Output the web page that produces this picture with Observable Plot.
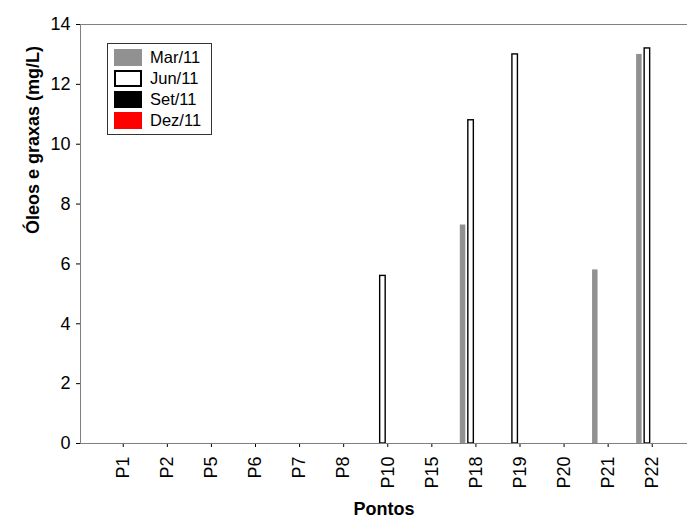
<!DOCTYPE html>
<html>
<head>
<meta charset="utf-8">
<script src="https://cdn.jsdelivr.net/npm/d3@7"></script>
<script src="https://cdn.jsdelivr.net/npm/@observablehq/plot@0.6"></script>
<style>
  body { margin: 0; background: #fff; }
  #wrap { position: relative; width: 687px; height: 521px; font-family: "Liberation Sans", Arial, sans-serif; }
  .legend { position: absolute; left: 107px; top: 43px; width: 105px; height: 92px; border: 1px solid #333; box-sizing: border-box; background: #fff; }
  .legend .row { position: absolute; left: 6px; height: 17px; display: flex; align-items: center; }
  .legend .sw { width: 28px; height: 17px; box-sizing: border-box; margin-right: 8px; }
  .legend .lab { font-size: 16.5px; line-height: 17px; color: #000; }
</style>
</head>
<body>
<div id="wrap"></div>
<script>
const pontos = ["P1","P2","P5","P6","P7","P8","P10","P15","P18","P19","P20","P21","P22"];
const series = ["Mar/11","Jun/11","Set/11","Dez/11"];
const mar = [0,0,0,0,0,0,0,0,7.3,0,0,5.8,13.0];
const jun = [0,0,0,0,0,0,5.6,0,10.8,13.0,0,0,13.2];
const set = [0,0,0,0,0,0,0,0,0,0,0,0,0];
const dez = [0,0,0,0,0,0,0,0,0,0,0,0,0];
const yTicks = [0,2,4,6,8,10,12,14];
const xTitle = "Pontos";
const yTitle = "Óleos e graxas (mg/L)";
const fills = ["#919191","#ffffff","#000000","#ff0000"];
const strokes = ["none","#000000","none","none"];

const allSeries = [mar, jun, set, dez];
const slot = 0.182, barW = 0.125;
const rows = [];
allSeries.forEach((vals, s) => {
  vals.forEach((v, i) => {
    if (v > 0) {
      const x1 = i + (s - 2) * slot + 0.01;
      rows.push({serie: series[s], s, i, value: v, x1, x2: x1 + barW});
    }
  });
});

const chart = Plot.plot({
  width: 687,
  height: 521,
  marginLeft: 80,
  marginRight: 0,
  marginTop: 24,
  marginBottom: 78,
  style: {fontFamily: "'Liberation Sans', Arial, sans-serif", fontSize: "18px", color: "#000", background: "#fff"},
  x: {type: "linear", domain: [-0.97, 12.8], ticks: d3.range(pontos.length), tickFormat: i => pontos[i],
      tickRotate: -90, tickSize: 4, tickPadding: 9, label: null},
  y: {domain: [0, 14], ticks: yTicks, tickSize: 4, tickPadding: 6, label: null},
  marks: [
    Plot.rectY(rows.filter(d => d.s !== 1), {x1: "x1", x2: "x2", y: "value", fill: d => fills[d.s]}),
    Plot.rectY(rows.filter(d => d.s === 1), {x1: "x1", x2: "x2", y: "value", fill: "#fff", stroke: "#000", strokeWidth: 1.4}),
    Plot.ruleY([0], {stroke: "#808080", strokeWidth: 1.2}),
    Plot.ruleY([14], {stroke: "#808080", strokeWidth: 1}),
    Plot.ruleX([-0.97], {stroke: "#808080", strokeWidth: 1}),
    Plot.text([xTitle], {frameAnchor: "bottom", dy: 71, fontWeight: "bold", fontSize: 18, fill: "#000"}),
    Plot.text([yTitle], {frameAnchor: "left", rotate: -90, dx: -47, fontWeight: "bold", fontSize: 18, fill: "#000"})
  ]
});
const wrap = document.getElementById("wrap");
wrap.appendChild(chart);

const leg = document.createElement("div");
leg.className = "legend";
series.forEach((s, k) => {
  const row = document.createElement("div");
  row.className = "row";
  row.style.top = (5 + k * 21) + "px";
  const sw = document.createElement("div");
  sw.className = "sw";
  sw.style.background = fills[k];
  if (strokes[k] !== "none") sw.style.border = "2px solid " + strokes[k];
  const lab = document.createElement("span");
  lab.className = "lab";
  lab.textContent = s;
  row.appendChild(sw); row.appendChild(lab);
  leg.appendChild(row);
});
wrap.appendChild(leg);
</script>
</body>
</html>
